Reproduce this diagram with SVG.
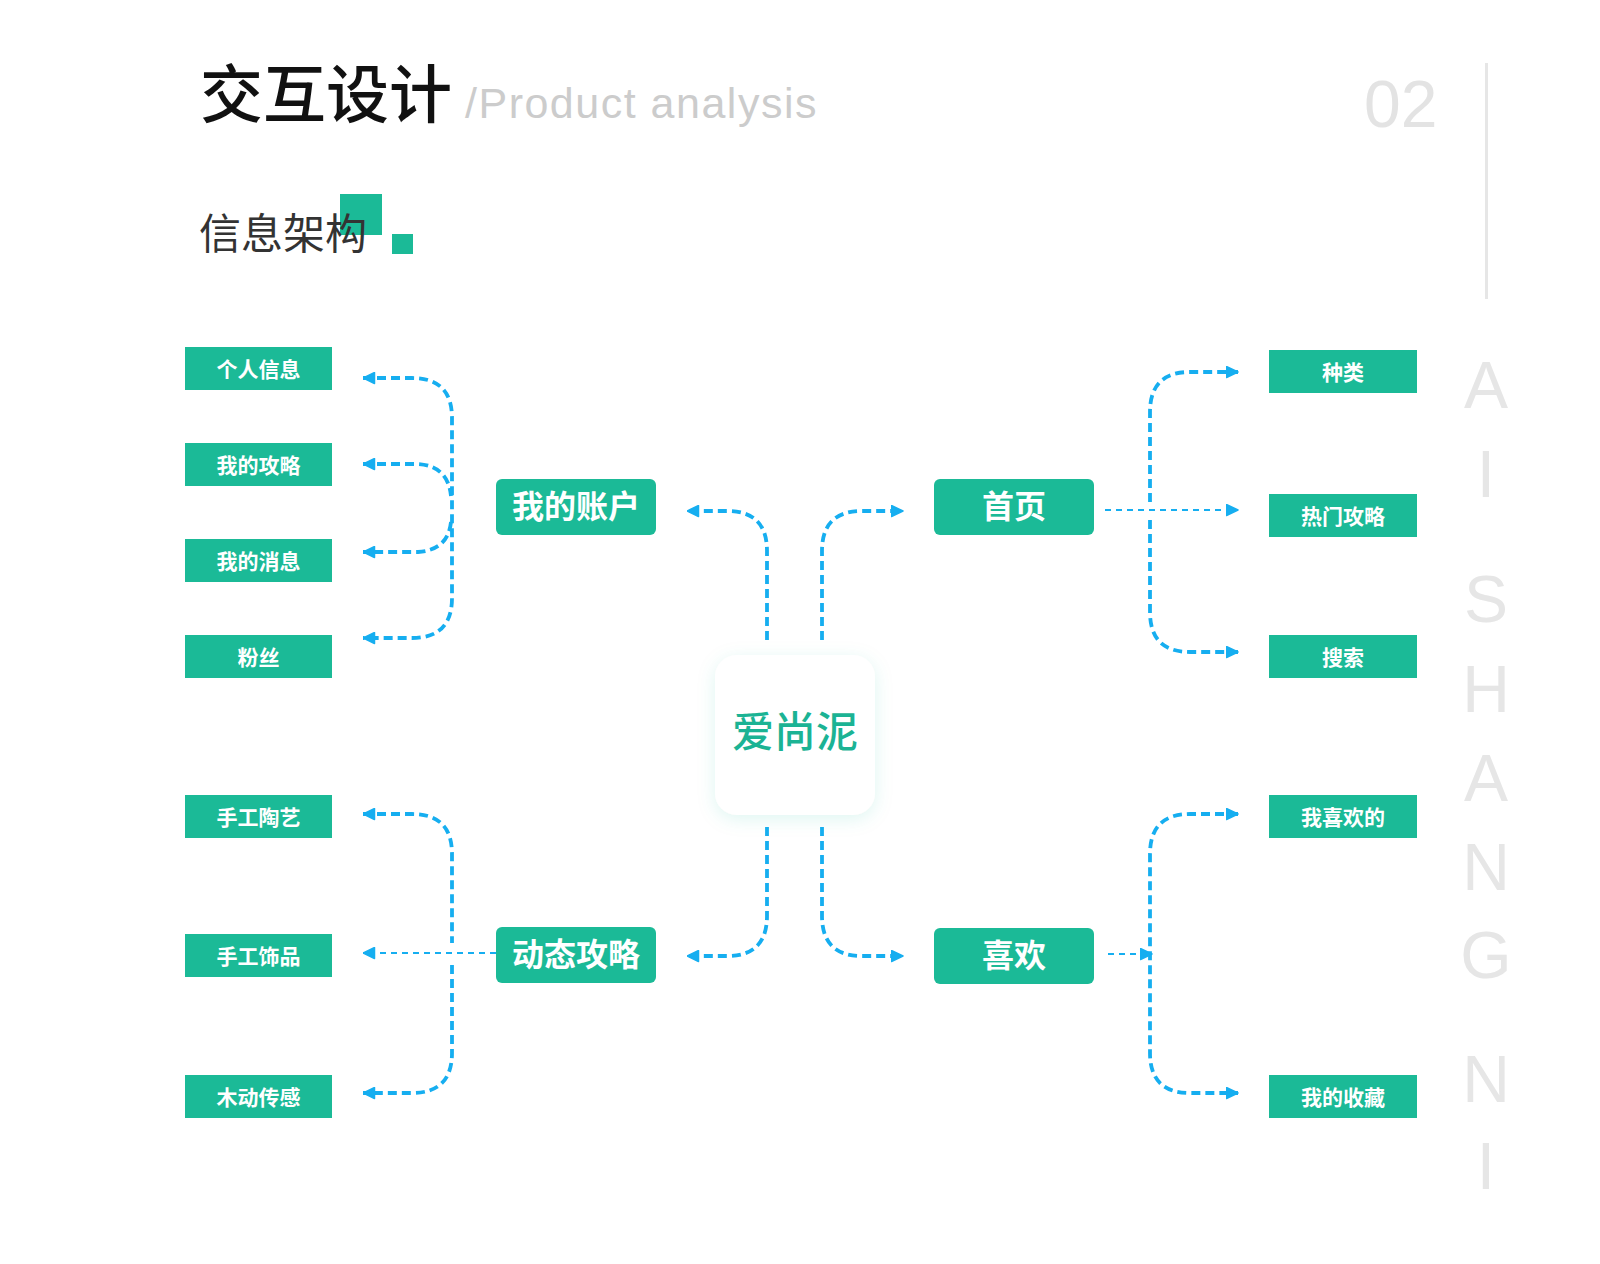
<svg xmlns="http://www.w3.org/2000/svg" width="1600" height="1264" viewBox="0 0 1600 1264">
<defs>
<style>
.cjk{font-family:"Noto Sans CJK SC","Noto Sans",sans-serif;}
.lat{font-family:"Liberation Sans",Arial,sans-serif;}
.leaf rect{fill:#1bba97;}
.leaf text{fill:#ffffff;font-size:21px;font-weight:700;text-anchor:middle;}
.mid rect{fill:#1bba97;}
.mid text{fill:#ffffff;font-size:32px;font-weight:700;text-anchor:middle;}
.thick{fill:none;stroke:#16aef0;stroke-width:3.8;stroke-dasharray:9 5;}
.thin{fill:none;stroke:#16aef0;stroke-width:2;stroke-dasharray:6 5;}
.side{fill:#e6e6e6;font-size:66px;text-anchor:middle;}
</style>
<marker id="ah" viewBox="0 0 13 13" markerWidth="13" markerHeight="13" refX="12.5" refY="6.5" orient="auto-start-reverse" markerUnits="userSpaceOnUse">
<path d="M1,1 L12.5,6.5 L1,12 Z" fill="#16aef0" stroke="#16aef0" stroke-width="1.5" stroke-linejoin="round"/>
</marker>
<filter id="sh" x="-30%" y="-30%" width="160%" height="160%">
<feDropShadow dx="0" dy="4" stdDeviation="9" flood-color="#1bba97" flood-opacity="0.13"/>
</filter>
</defs>
<rect x="0" y="0" width="1600" height="1264" fill="#ffffff"/>

<g id="header">
<text class="cjk" x="200" y="117" font-size="63" font-weight="500" fill="#111111">交互设计</text>
<text class="lat" x="465" y="118" font-size="43" letter-spacing="1.5" fill="#cccccc">/Product analysis</text>
<text class="lat" x="1364" y="127" font-size="66" fill="#e3e3e3">02</text>
<rect x="1485" y="63" width="3" height="236" fill="#e6e6e6"/>
<rect x="340" y="194" width="42" height="41" fill="#1bba97"/>
<rect x="392" y="234" width="21" height="20" fill="#1bba97"/>
<text class="cjk" x="199" y="249" font-size="42" fill="#333333">信息架构</text>
</g>

<g id="side-letters" class="lat">
<text class="side" x="1486" y="408">A</text>
<text class="side" x="1486" y="497">I</text>
<text class="side" x="1486" y="622">S</text>
<text class="side" x="1486" y="712">H</text>
<text class="side" x="1486" y="801">A</text>
<text class="side" x="1486" y="890">N</text>
<text class="side" x="1486" y="978">G</text>
<text class="side" x="1486" y="1102">N</text>
<text class="side" x="1486" y="1189">I</text>
</g>

<g id="connectors">
<path class="thick" d="M767 640 V551 Q767 511 727 511 H687" marker-end="url(#ah)"/>
<path class="thick" d="M822 640 V551 Q822 511 862 511 H903" marker-end="url(#ah)"/>
<path class="thick" d="M767 827 V916 Q767 956 727 956 H687" marker-end="url(#ah)"/>
<path class="thick" d="M822 827 V916 Q822 956 862 956 H903" marker-end="url(#ah)"/>

<path class="thick" d="M363 378 H412 Q452 378 452 418 V598 Q452 638 412 638 H363" marker-start="url(#ah)" marker-end="url(#ah)"/>
<path class="thick" d="M363 464 H418 Q448 466 451 496" marker-start="url(#ah)"/>
<path class="thick" d="M451 522 Q448 550 418 552 H363" marker-end="url(#ah)"/>

<path class="thick" d="M363 814 H412 Q452 814 452 854 V943" marker-start="url(#ah)"/>
<path class="thick" d="M452 965 V1053 Q452 1093 412 1093 H363" marker-end="url(#ah)"/>
<path class="thin" d="M496 953 H363" marker-end="url(#ah)"/>

<path class="thick" d="M1150 502 V412 Q1150 372 1190 372 H1238" marker-end="url(#ah)"/>
<path class="thick" d="M1150 520 V612 Q1150 652 1190 652 H1238" marker-end="url(#ah)"/>
<path class="thin" d="M1105 510 H1238" marker-end="url(#ah)"/>

<path class="thick" d="M1238 814 H1190 Q1150 814 1150 854 V1053 Q1150 1093 1190 1093 H1238" marker-start="url(#ah)" marker-end="url(#ah)"/>
<path class="thin" d="M1108 954 H1152" marker-end="url(#ah)"/>
</g>

<g id="center">
<rect x="715" y="655" width="160" height="160" rx="22" fill="#ffffff" filter="url(#sh)"/>
<text class="cjk" x="795" y="747" font-size="42" font-weight="500" fill="#1bb394" text-anchor="middle">爱尚泥</text>
</g>

<g id="n-account" class="mid cjk"><rect x="496" y="479" width="160" height="56" rx="6"/><text x="576" y="518">我的账户</text></g>
<g id="n-home" class="mid cjk"><rect x="934" y="479" width="160" height="56" rx="6"/><text x="1014" y="518">首页</text></g>
<g id="n-guide" class="mid cjk"><rect x="496" y="927" width="160" height="56" rx="6"/><text x="576" y="966">动态攻略</text></g>
<g id="n-like" class="mid cjk"><rect x="934" y="928" width="160" height="56" rx="6"/><text x="1014" y="967">喜欢</text></g>

<g id="l-info" class="leaf cjk"><rect x="185" y="347" width="147" height="43"/><text x="258.5" y="377">个人信息</text></g>
<g id="l-myguide" class="leaf cjk"><rect x="185" y="443" width="147" height="43"/><text x="258.5" y="473">我的攻略</text></g>
<g id="l-msg" class="leaf cjk"><rect x="185" y="539" width="147" height="43"/><text x="258.5" y="569">我的消息</text></g>
<g id="l-fans" class="leaf cjk"><rect x="185" y="635" width="147" height="43"/><text x="258.5" y="665">粉丝</text></g>
<g id="l-pottery" class="leaf cjk"><rect x="185" y="795" width="147" height="43"/><text x="258.5" y="825">手工陶艺</text></g>
<g id="l-jewelry" class="leaf cjk"><rect x="185" y="934" width="147" height="43"/><text x="258.5" y="964">手工饰品</text></g>
<g id="l-wood" class="leaf cjk"><rect x="185" y="1075" width="147" height="43"/><text x="258.5" y="1105">木动传感</text></g>

<g id="r-kind" class="leaf cjk"><rect x="1269" y="350" width="148" height="43"/><text x="1343" y="380">种类</text></g>
<g id="r-hot" class="leaf cjk"><rect x="1269" y="494" width="148" height="43"/><text x="1343" y="524">热门攻略</text></g>
<g id="r-search" class="leaf cjk"><rect x="1269" y="635" width="148" height="43"/><text x="1343" y="665">搜索</text></g>
<g id="r-mylike" class="leaf cjk"><rect x="1269" y="795" width="148" height="43"/><text x="1343" y="825">我喜欢的</text></g>
<g id="r-fav" class="leaf cjk"><rect x="1269" y="1075" width="148" height="43"/><text x="1343" y="1105">我的收藏</text></g>
</svg>
